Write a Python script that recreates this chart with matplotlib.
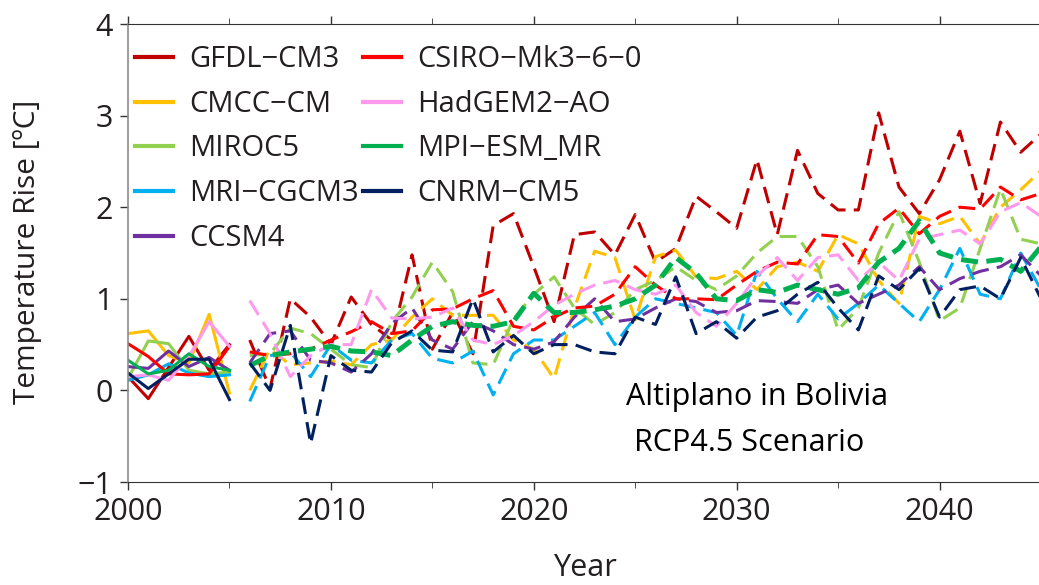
import matplotlib
matplotlib.use('Agg')
import matplotlib.pyplot as plt

plt.rcParams['font.family'] = ['Open Sans', 'DejaVu Sans']
plt.rcParams['axes.unicode_minus'] = True

# data
hist_years = list(range(2000, 2006))
rcp_years = list(range(2006, 2046))

models = ['GFDL−CM3', 'CMCC−CM', 'MIROC5', 'MRI−CGCM3', 'CCSM4',
          'CSIRO−Mk3−6−0', 'HadGEM2−AO', 'MPI−ESM_MR', 'CNRM−CM5']

gfdl_hist = [0.15, -0.09, 0.25, 0.59, 0.22, 0.50]
gfdl_rcp = [0.55, 0.02, 1.00, 0.80, 0.50, 1.02, 0.72, 0.55, 1.48, 0.45,
            0.85, 0.40, 1.80, 1.93, 1.35, 0.75, 1.70, 1.73, 1.48, 1.92,
            1.40, 1.55, 2.12, 1.95, 1.77, 2.52, 1.70, 2.62, 2.15, 1.97,
            1.97, 3.03, 2.22, 1.93, 2.30, 2.83, 2.04, 2.93, 2.60, 2.80]

cmcc_hist = [0.62, 0.65, 0.38, 0.30, 0.83, -0.03]
cmcc_rcp = [0.00, 0.45, 0.28, 0.30, 0.32, 0.28, 0.50, 0.55, 0.80, 1.00,
            0.82, 0.82, 0.82, 0.55, 0.45, 0.13, 0.90, 1.52, 1.45, 0.77,
            1.46, 1.53, 1.24, 1.22, 1.30, 1.10, 1.35, 1.40, 1.30, 1.70,
            1.60, 1.20, 0.95, 1.90, 1.82, 1.90, 1.60, 2.00, 2.19, 2.40]

miroc_hist = [0.13, 0.54, 0.51, 0.22, 0.18, 0.20]
miroc_rcp = [0.38, 0.40, 0.68, 0.62, 0.45, 0.28, 0.25, 0.75, 1.02, 1.40,
             1.08, 0.30, 0.28, 0.78, 1.05, 1.24, 0.90, 0.72, 0.85, 1.10,
             1.20, 1.35, 1.20, 1.10, 1.25, 1.50, 1.68, 1.68, 1.35, 0.66,
             0.90, 1.50, 1.95, 1.40, 0.76, 0.90, 1.55, 2.20, 1.65, 1.60]

mri_hist = [0.11, 0.17, 0.29, 0.19, 0.15, 0.17]
mri_rcp = [-0.12, 0.38, 0.42, 0.15, 0.50, 0.33, 0.30, 0.55, 0.62, 0.35,
           0.30, 0.43, -0.05, 0.40, 0.55, 0.55, 0.70, 0.85, 0.50, 0.80,
           1.00, 0.95, 0.90, 0.85, 0.60, 1.30, 1.00, 0.75, 1.05, 0.78,
           0.95, 1.15, 0.95, 0.75, 1.10, 1.55, 1.05, 1.00, 1.50, 1.10]

ccsm_hist = [0.26, 0.24, 0.43, 0.26, 0.36, 0.22]
ccsm_rcp = [0.30, 0.62, 0.65, 0.33, 0.30, 0.20, 0.40, 0.73, 0.90, 0.55,
            0.45, 0.75, 0.65, 0.50, 0.45, 0.53, 0.80, 1.00, 0.75, 0.78,
            0.90, 1.00, 0.97, 0.85, 0.87, 0.98, 0.97, 0.95, 1.10, 1.15,
            0.95, 1.05, 1.15, 1.35, 1.10, 1.22, 1.30, 1.35, 1.48, 1.25]

csiro_hist = [0.51, 0.37, 0.18, 0.17, 0.18, 0.48]
csiro_rcp = [0.42, 0.38, 0.40, 0.45, 0.55, 0.64, 0.75, 0.62, 0.65, 0.88,
             0.89, 1.00, 1.09, 0.70, 0.66, 0.80, 0.90, 0.92, 1.05, 1.35,
             1.15, 1.00, 1.00, 0.99, 1.15, 1.30, 1.40, 1.38, 1.70, 1.68,
             1.39, 1.82, 1.99, 1.71, 1.90, 2.00, 1.98, 2.22, 2.08, 2.15]

hadgem_hist = [0.15, 0.17, 0.11, 0.37, 0.75, 0.48]
hadgem_rcp = [0.98, 0.62, 0.15, 0.38, 0.50, 0.50, 1.10, 0.79, 0.78, 0.80,
              0.90, 0.55, 0.50, 0.60, 0.75, 0.93, 1.05, 1.15, 1.20, 1.10,
              1.05, 1.15, 0.85, 0.70, 0.95, 1.25, 1.45, 1.20, 1.45, 1.48,
              1.20, 1.40, 1.20, 1.65, 1.70, 1.75, 1.60, 1.95, 2.05, 1.90]

mpi_hist = [0.33, 0.18, 0.22, 0.40, 0.26, 0.22]
mpi_rcp = [0.27, 0.38, 0.42, 0.45, 0.48, 0.43, 0.42, 0.38, 0.55, 0.70,
           0.75, 0.71, 0.70, 0.75, 1.06, 0.85, 0.85, 0.88, 0.92, 1.00,
           1.15, 1.45, 1.28, 1.00, 0.98, 1.10, 1.07, 1.15, 1.10, 1.05,
           1.12, 1.40, 1.55, 1.85, 1.50, 1.43, 1.40, 1.43, 1.30, 1.57]

cnrm_hist = [0.19, 0.02, 0.18, 0.34, 0.34, -0.10]
cnrm_rcp = [0.30, 0.00, 0.71, -0.58, 0.38, 0.22, 0.20, 0.52, 0.65, 0.44,
            0.42, 1.00, 0.42, 0.60, 0.40, 0.50, 0.50, 0.42, 0.40, 0.80,
            0.72, 1.24, 0.62, 0.75, 0.57, 0.80, 0.87, 1.05, 1.18, 0.90,
            0.66, 1.25, 1.10, 1.33, 0.80, 1.10, 1.14, 1.00, 1.45, 1.00]

hist = [gfdl_hist, cmcc_hist, miroc_hist, mri_hist, ccsm_hist,
        csiro_hist, hadgem_hist, mpi_hist, cnrm_hist]
rcp = [gfdl_rcp, cmcc_rcp, miroc_rcp, mri_rcp, ccsm_rcp,
       csiro_rcp, hadgem_rcp, mpi_rcp, cnrm_rcp]
colors = ['#C00000', '#FFC000', '#92D050', '#00B0F0', '#7030A0',
          '#FF0000', '#FF99EE', '#00B050', '#002060']

txt = '#231F20'

fig = plt.figure(figsize=(10.39, 5.85), dpi=100)
ax = fig.add_axes([128 / 1039, 103 / 585, 913 / 1039, 458 / 585])

for i in range(len(models)):
    # 2000-2005 historical runs solid, RCP4.5 runs dashed
    ax.plot(hist_years, hist[i], color=colors[i], lw=2.2, label=models[i])
    if models[i] == 'MPI−ESM_MR':
        ax.plot(rcp_years, rcp[i], color=colors[i], lw=3.6,
                linestyle=(0, (3.4, 1.7)))
    else:
        ax.plot(rcp_years, rcp[i], color=colors[i], lw=2.2,
                linestyle=(0, (5.5, 2.7)))

ax.set_xlim(2000, 2045)
ax.set_ylim(-1, 4)
ax.set_xticks([2000, 2010, 2020, 2030, 2040])
ax.set_xticks([2005, 2015, 2025, 2035, 2045], minor=True)
ax.set_yticks([-1, 0, 1, 2, 3, 4])
ax.tick_params(axis='both', which='major', direction='out', labelsize=22,
               colors='#333333', labelcolor=txt, width=1)
ax.tick_params(axis='x', which='major', length=6, top=True, pad=5)
ax.tick_params(axis='x', which='minor', length=4, top=True, direction='out',
               color='#333333')
ax.tick_params(axis='y', which='major', length=6, pad=5)

ax.spines['right'].set_visible(False)
ax.spines['left'].set_color('#8c8c8c')
ax.spines['left'].set_linewidth(1.2)
ax.spines['top'].set_color('#333333')
ax.spines['bottom'].set_color('#333333')

leg = ax.legend(ncol=2, loc='upper left', frameon=False, fontsize=21,
                handlelength=1.3, handletextpad=0.55, labelspacing=0.54,
                columnspacing=0.15, borderpad=0.0, borderaxespad=0.0,
                bbox_to_anchor=(7 / 913, 1 - 21 / 458))
for t in leg.get_texts():
    t.set_color(txt)
for h in leg.get_lines():
    h.set_linewidth(3.0)

ax.text(0.689, (481.7 - 397) / 458, 'Altiplano in Bolivia',
        transform=ax.transAxes, fontsize=22, color='black',
        ha='center', va='center')
ax.text(0.680, (481.7 - 443) / 458, 'RCP4.5 Scenario',
        transform=ax.transAxes, fontsize=22, color='black',
        ha='center', va='center')

fig.text(585 / 1039, 1 - 568 / 585, 'Year', fontsize=22, color=txt,
         ha='center', va='center')
fig.text(28 / 1039, 1 - 252 / 585, 'Temperature Rise [ºC]', fontsize=21.5,
         color=txt, ha='center', va='center', rotation=90)

fig.savefig('out.png', dpi=100)
